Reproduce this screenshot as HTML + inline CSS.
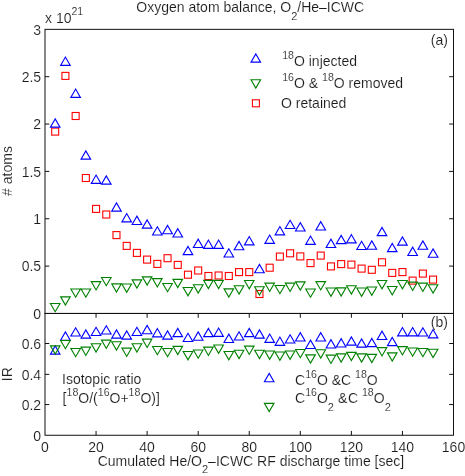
<!DOCTYPE html>
<html><head><meta charset="utf-8"><title>Oxygen atom balance</title>
<style>html,body{margin:0;padding:0;background:#fff}svg{display:block;will-change:transform}text{font-family:"Liberation Sans",sans-serif;font-size:14px;fill:#1c1c1c;stroke:#fff;stroke-width:0.12px;paint-order:fill stroke}.s{font-size:10.6px}.b{font-size:11px}</style></head><body>
<svg width="465" height="476" viewBox="0 0 465 476">
<rect width="465" height="476" fill="#fff"/>
<g stroke="#111" stroke-width="1" fill="none" shape-rendering="auto">
<rect x="45.0" y="29.35" width="408.50" height="284.10"/>
<rect x="45.0" y="313.45" width="408.50" height="121.80"/>
<path d="M45.0,266.10h4.3 M453.5,266.10h-4.3"/>
<path d="M45.0,218.75h4.3 M453.5,218.75h-4.3"/>
<path d="M45.0,171.40h4.3 M453.5,171.40h-4.3"/>
<path d="M45.0,124.05h4.3 M453.5,124.05h-4.3"/>
<path d="M45.0,76.70h4.3 M453.5,76.70h-4.3"/>
<path d="M45.0,404.55h4.3 M453.5,404.55h-4.3"/>
<path d="M45.0,374.35h4.3 M453.5,374.35h-4.3"/>
<path d="M45.0,343.50h4.3 M453.5,343.50h-4.3"/>
<path d="M96.06,313.45v4.3 M96.06,435.25v-4.3"/>
<path d="M147.12,313.45v4.3 M147.12,435.25v-4.3"/>
<path d="M198.19,313.45v4.3 M198.19,435.25v-4.3"/>
<path d="M249.25,313.45v4.3 M249.25,435.25v-4.3"/>
<path d="M300.31,313.45v4.3 M300.31,435.25v-4.3"/>
<path d="M351.38,313.45v4.3 M351.38,435.25v-4.3"/>
<path d="M402.44,313.45v4.3 M402.44,435.25v-4.3"/>
</g>
<g fill="none" stroke-width="1.1" stroke-linejoin="miter">
<rect x="51.71" y="128.10" width="7.00" height="7.00" stroke="#ff0000"/>
<rect x="61.92" y="72.40" width="7.00" height="7.00" stroke="#ff0000"/>
<rect x="72.14" y="112.50" width="7.00" height="7.00" stroke="#ff0000"/>
<rect x="82.35" y="174.50" width="7.00" height="7.00" stroke="#ff0000"/>
<rect x="92.56" y="205.40" width="7.00" height="7.00" stroke="#ff0000"/>
<rect x="102.78" y="211.00" width="7.00" height="7.00" stroke="#ff0000"/>
<rect x="112.99" y="231.60" width="7.00" height="7.00" stroke="#ff0000"/>
<rect x="123.20" y="242.40" width="7.00" height="7.00" stroke="#ff0000"/>
<rect x="133.41" y="249.40" width="7.00" height="7.00" stroke="#ff0000"/>
<rect x="143.62" y="256.10" width="7.00" height="7.00" stroke="#ff0000"/>
<rect x="153.84" y="260.40" width="7.00" height="7.00" stroke="#ff0000"/>
<rect x="164.05" y="254.70" width="7.00" height="7.00" stroke="#ff0000"/>
<rect x="174.26" y="261.40" width="7.00" height="7.00" stroke="#ff0000"/>
<rect x="184.47" y="271.20" width="7.00" height="7.00" stroke="#ff0000"/>
<rect x="194.69" y="267.00" width="7.00" height="7.00" stroke="#ff0000"/>
<rect x="204.90" y="272.50" width="7.00" height="7.00" stroke="#ff0000"/>
<rect x="215.11" y="272.00" width="7.00" height="7.00" stroke="#ff0000"/>
<rect x="225.32" y="272.50" width="7.00" height="7.00" stroke="#ff0000"/>
<rect x="235.54" y="268.60" width="7.00" height="7.00" stroke="#ff0000"/>
<rect x="245.75" y="268.60" width="7.00" height="7.00" stroke="#ff0000"/>
<rect x="255.96" y="290.50" width="7.00" height="7.00" stroke="#ff0000"/>
<rect x="266.18" y="264.20" width="7.00" height="7.00" stroke="#ff0000"/>
<rect x="276.39" y="253.10" width="7.00" height="7.00" stroke="#ff0000"/>
<rect x="286.60" y="249.80" width="7.00" height="7.00" stroke="#ff0000"/>
<rect x="296.81" y="252.90" width="7.00" height="7.00" stroke="#ff0000"/>
<rect x="307.02" y="259.60" width="7.00" height="7.00" stroke="#ff0000"/>
<rect x="317.24" y="252.10" width="7.00" height="7.00" stroke="#ff0000"/>
<rect x="327.45" y="262.90" width="7.00" height="7.00" stroke="#ff0000"/>
<rect x="337.66" y="260.60" width="7.00" height="7.00" stroke="#ff0000"/>
<rect x="347.88" y="261.10" width="7.00" height="7.00" stroke="#ff0000"/>
<rect x="358.09" y="265.10" width="7.00" height="7.00" stroke="#ff0000"/>
<rect x="368.30" y="266.30" width="7.00" height="7.00" stroke="#ff0000"/>
<rect x="378.51" y="258.80" width="7.00" height="7.00" stroke="#ff0000"/>
<rect x="388.73" y="269.40" width="7.00" height="7.00" stroke="#ff0000"/>
<rect x="398.94" y="268.60" width="7.00" height="7.00" stroke="#ff0000"/>
<rect x="409.15" y="277.10" width="7.00" height="7.00" stroke="#ff0000"/>
<rect x="419.36" y="270.10" width="7.00" height="7.00" stroke="#ff0000"/>
<rect x="429.57" y="276.10" width="7.00" height="7.00" stroke="#ff0000"/>
<polygon points="50.41,303.45 60.01,303.45 55.21,311.75" stroke="#008000"/>
<polygon points="60.62,296.85 70.22,296.85 65.42,305.15" stroke="#008000"/>
<polygon points="70.84,288.95 80.44,288.95 75.64,297.25" stroke="#008000"/>
<polygon points="81.05,288.95 90.65,288.95 85.85,297.25" stroke="#008000"/>
<polygon points="91.26,281.65 100.86,281.65 96.06,289.95" stroke="#008000"/>
<polygon points="101.48,277.45 111.08,277.45 106.28,285.75" stroke="#008000"/>
<polygon points="111.69,283.85 121.29,283.85 116.49,292.15" stroke="#008000"/>
<polygon points="121.90,284.05 131.50,284.05 126.70,292.35" stroke="#008000"/>
<polygon points="132.11,279.85 141.71,279.85 136.91,288.15" stroke="#008000"/>
<polygon points="142.32,276.85 151.93,276.85 147.12,285.15" stroke="#008000"/>
<polygon points="152.54,278.65 162.14,278.65 157.34,286.95" stroke="#008000"/>
<polygon points="162.75,283.45 172.35,283.45 167.55,291.75" stroke="#008000"/>
<polygon points="172.96,279.35 182.56,279.35 177.76,287.65" stroke="#008000"/>
<polygon points="183.17,287.55 192.78,287.55 187.97,295.85" stroke="#008000"/>
<polygon points="193.39,284.75 202.99,284.75 198.19,293.05" stroke="#008000"/>
<polygon points="203.60,280.35 213.20,280.35 208.40,288.65" stroke="#008000"/>
<polygon points="213.81,280.35 223.41,280.35 218.61,288.65" stroke="#008000"/>
<polygon points="224.02,288.85 233.62,288.85 228.82,297.15" stroke="#008000"/>
<polygon points="234.24,285.75 243.84,285.75 239.04,294.05" stroke="#008000"/>
<polygon points="244.45,280.55 254.05,280.55 249.25,288.85" stroke="#008000"/>
<polygon points="254.66,286.75 264.26,286.75 259.46,295.05" stroke="#008000"/>
<polygon points="264.88,283.15 274.48,283.15 269.68,291.45" stroke="#008000"/>
<polygon points="275.09,285.45 284.69,285.45 279.89,293.75" stroke="#008000"/>
<polygon points="285.30,283.15 294.90,283.15 290.10,291.45" stroke="#008000"/>
<polygon points="295.51,281.85 305.11,281.85 300.31,290.15" stroke="#008000"/>
<polygon points="305.72,288.95 315.32,288.95 310.52,297.25" stroke="#008000"/>
<polygon points="315.94,281.65 325.54,281.65 320.74,289.95" stroke="#008000"/>
<polygon points="326.15,288.05 335.75,288.05 330.95,296.35" stroke="#008000"/>
<polygon points="336.36,287.85 345.96,287.85 341.16,296.15" stroke="#008000"/>
<polygon points="346.57,285.75 356.18,285.75 351.38,294.05" stroke="#008000"/>
<polygon points="356.79,288.05 366.39,288.05 361.59,296.35" stroke="#008000"/>
<polygon points="367.00,287.05 376.60,287.05 371.80,295.35" stroke="#008000"/>
<polygon points="377.21,280.55 386.81,280.55 382.01,288.85" stroke="#008000"/>
<polygon points="387.43,286.55 397.03,286.55 392.23,294.85" stroke="#008000"/>
<polygon points="397.64,280.55 407.24,280.55 402.44,288.85" stroke="#008000"/>
<polygon points="407.85,282.15 417.45,282.15 412.65,290.45" stroke="#008000"/>
<polygon points="418.06,283.15 427.66,283.15 422.86,291.45" stroke="#008000"/>
<polygon points="428.27,284.75 437.88,284.75 433.07,293.05" stroke="#008000"/>
<polygon points="50.41,127.15 60.01,127.15 55.21,118.85" stroke="#0000ff"/>
<polygon points="60.62,65.35 70.22,65.35 65.42,57.05" stroke="#0000ff"/>
<polygon points="70.84,97.35 80.44,97.35 75.64,89.05" stroke="#0000ff"/>
<polygon points="81.05,159.15 90.65,159.15 85.85,150.85" stroke="#0000ff"/>
<polygon points="91.26,183.35 100.86,183.35 96.06,175.05" stroke="#0000ff"/>
<polygon points="101.48,184.15 111.08,184.15 106.28,175.85" stroke="#0000ff"/>
<polygon points="111.69,211.15 121.29,211.15 116.49,202.85" stroke="#0000ff"/>
<polygon points="121.90,221.85 131.50,221.85 126.70,213.55" stroke="#0000ff"/>
<polygon points="132.11,224.45 141.71,224.45 136.91,216.15" stroke="#0000ff"/>
<polygon points="142.32,228.15 151.93,228.15 147.12,219.85" stroke="#0000ff"/>
<polygon points="152.54,235.05 162.14,235.05 157.34,226.75" stroke="#0000ff"/>
<polygon points="162.75,233.75 172.35,233.75 167.55,225.45" stroke="#0000ff"/>
<polygon points="172.96,236.95 182.56,236.95 177.76,228.65" stroke="#0000ff"/>
<polygon points="183.17,254.65 192.78,254.65 187.97,246.35" stroke="#0000ff"/>
<polygon points="193.39,247.45 202.99,247.45 198.19,239.15" stroke="#0000ff"/>
<polygon points="203.60,248.35 213.20,248.35 208.40,240.05" stroke="#0000ff"/>
<polygon points="213.81,248.35 223.41,248.35 218.61,240.05" stroke="#0000ff"/>
<polygon points="224.02,257.05 233.62,257.05 228.82,248.75" stroke="#0000ff"/>
<polygon points="234.24,249.75 243.84,249.75 239.04,241.45" stroke="#0000ff"/>
<polygon points="244.45,244.85 254.05,244.85 249.25,236.55" stroke="#0000ff"/>
<polygon points="254.66,272.75 264.26,272.75 259.46,264.45" stroke="#0000ff"/>
<polygon points="264.88,243.35 274.48,243.35 269.68,235.05" stroke="#0000ff"/>
<polygon points="275.09,234.85 284.69,234.85 279.89,226.55" stroke="#0000ff"/>
<polygon points="285.30,228.55 294.90,228.55 290.10,220.25" stroke="#0000ff"/>
<polygon points="295.51,230.95 305.11,230.95 300.31,222.65" stroke="#0000ff"/>
<polygon points="305.72,244.35 315.32,244.35 310.52,236.05" stroke="#0000ff"/>
<polygon points="315.94,229.95 325.54,229.95 320.74,221.65" stroke="#0000ff"/>
<polygon points="326.15,247.45 335.75,247.45 330.95,239.15" stroke="#0000ff"/>
<polygon points="336.36,243.65 345.96,243.65 341.16,235.35" stroke="#0000ff"/>
<polygon points="346.57,242.85 356.18,242.85 351.38,234.55" stroke="#0000ff"/>
<polygon points="356.79,249.55 366.39,249.55 361.59,241.25" stroke="#0000ff"/>
<polygon points="367.00,249.25 376.60,249.25 371.80,240.95" stroke="#0000ff"/>
<polygon points="377.21,235.65 386.81,235.65 382.01,227.35" stroke="#0000ff"/>
<polygon points="387.43,251.65 397.03,251.65 392.23,243.35" stroke="#0000ff"/>
<polygon points="397.64,245.15 407.24,245.15 402.44,236.85" stroke="#0000ff"/>
<polygon points="407.85,255.45 417.45,255.45 412.65,247.15" stroke="#0000ff"/>
<polygon points="418.06,249.25 427.66,249.25 422.86,240.95" stroke="#0000ff"/>
<polygon points="428.27,257.25 437.88,257.25 433.07,248.95" stroke="#0000ff"/>
<polygon points="50.41,354.15 60.01,354.15 55.21,345.85" stroke="#0000ff"/>
<polygon points="60.62,340.25 70.22,340.25 65.42,331.95" stroke="#0000ff"/>
<polygon points="70.84,336.05 80.44,336.05 75.64,327.75" stroke="#0000ff"/>
<polygon points="81.05,338.15 90.65,338.15 85.85,329.85" stroke="#0000ff"/>
<polygon points="91.26,335.55 100.86,335.55 96.06,327.25" stroke="#0000ff"/>
<polygon points="101.48,334.05 111.08,334.05 106.28,325.75" stroke="#0000ff"/>
<polygon points="111.69,338.15 121.29,338.15 116.49,329.85" stroke="#0000ff"/>
<polygon points="121.90,339.15 131.50,339.15 126.70,330.85" stroke="#0000ff"/>
<polygon points="132.11,335.55 141.71,335.55 136.91,327.25" stroke="#0000ff"/>
<polygon points="142.32,333.75 151.93,333.75 147.12,325.45" stroke="#0000ff"/>
<polygon points="152.54,336.85 162.14,336.85 157.34,328.55" stroke="#0000ff"/>
<polygon points="162.75,339.15 172.35,339.15 167.55,330.85" stroke="#0000ff"/>
<polygon points="172.96,336.65 182.56,336.65 177.76,328.35" stroke="#0000ff"/>
<polygon points="183.17,341.55 192.78,341.55 187.97,333.25" stroke="#0000ff"/>
<polygon points="193.39,340.25 202.99,340.25 198.19,331.95" stroke="#0000ff"/>
<polygon points="203.60,336.65 213.20,336.65 208.40,328.35" stroke="#0000ff"/>
<polygon points="213.81,336.35 223.41,336.35 218.61,328.05" stroke="#0000ff"/>
<polygon points="224.02,342.45 233.62,342.45 228.82,334.15" stroke="#0000ff"/>
<polygon points="234.24,340.05 243.84,340.05 239.04,331.75" stroke="#0000ff"/>
<polygon points="244.45,336.65 254.05,336.65 249.25,328.35" stroke="#0000ff"/>
<polygon points="254.66,338.15 264.26,338.15 259.46,329.85" stroke="#0000ff"/>
<polygon points="264.88,342.35 274.48,342.35 269.68,334.05" stroke="#0000ff"/>
<polygon points="275.09,345.35 284.69,345.35 279.89,337.05" stroke="#0000ff"/>
<polygon points="285.30,343.05 294.90,343.05 290.10,334.75" stroke="#0000ff"/>
<polygon points="295.51,340.95 305.11,340.95 300.31,332.65" stroke="#0000ff"/>
<polygon points="305.72,348.45 315.32,348.45 310.52,340.15" stroke="#0000ff"/>
<polygon points="315.94,340.95 325.54,340.95 320.74,332.65" stroke="#0000ff"/>
<polygon points="326.15,347.95 335.75,347.95 330.95,339.65" stroke="#0000ff"/>
<polygon points="336.36,346.95 345.96,346.95 341.16,338.65" stroke="#0000ff"/>
<polygon points="346.57,345.15 356.18,345.15 351.38,336.85" stroke="#0000ff"/>
<polygon points="356.79,347.15 366.39,347.15 361.59,338.85" stroke="#0000ff"/>
<polygon points="367.00,346.65 376.60,346.65 371.80,338.35" stroke="#0000ff"/>
<polygon points="377.21,339.45 386.81,339.45 382.01,331.15" stroke="#0000ff"/>
<polygon points="387.43,345.65 397.03,345.65 392.23,337.35" stroke="#0000ff"/>
<polygon points="397.64,335.85 407.24,335.85 402.44,327.55" stroke="#0000ff"/>
<polygon points="407.85,335.85 417.45,335.85 412.65,327.55" stroke="#0000ff"/>
<polygon points="418.06,336.05 427.66,336.05 422.86,327.75" stroke="#0000ff"/>
<polygon points="428.27,337.85 437.88,337.85 433.07,329.55" stroke="#0000ff"/>
<polygon points="50.41,345.85 60.01,345.85 55.21,354.15" stroke="#008000"/>
<polygon points="60.62,340.45 70.22,340.45 65.42,348.75" stroke="#008000"/>
<polygon points="70.84,348.45 80.44,348.45 75.64,356.75" stroke="#008000"/>
<polygon points="81.05,347.15 90.65,347.15 85.85,355.45" stroke="#008000"/>
<polygon points="91.26,343.75 100.86,343.75 96.06,352.05" stroke="#008000"/>
<polygon points="101.48,340.15 111.08,340.15 106.28,348.45" stroke="#008000"/>
<polygon points="111.69,341.75 121.29,341.75 116.49,350.05" stroke="#008000"/>
<polygon points="121.90,348.15 131.50,348.15 126.70,356.45" stroke="#008000"/>
<polygon points="132.11,343.75 141.71,343.75 136.91,352.05" stroke="#008000"/>
<polygon points="142.32,339.15 151.93,339.15 147.12,347.45" stroke="#008000"/>
<polygon points="152.54,346.45 162.14,346.45 157.34,354.75" stroke="#008000"/>
<polygon points="162.75,348.45 172.35,348.45 167.55,356.75" stroke="#008000"/>
<polygon points="172.96,346.35 182.56,346.35 177.76,354.65" stroke="#008000"/>
<polygon points="183.17,351.55 192.78,351.55 187.97,359.85" stroke="#008000"/>
<polygon points="193.39,349.95 202.99,349.95 198.19,358.25" stroke="#008000"/>
<polygon points="203.60,347.15 213.20,347.15 208.40,355.45" stroke="#008000"/>
<polygon points="213.81,345.05 223.41,345.05 218.61,353.35" stroke="#008000"/>
<polygon points="224.02,351.55 233.62,351.55 228.82,359.85" stroke="#008000"/>
<polygon points="234.24,350.25 243.84,350.25 239.04,358.55" stroke="#008000"/>
<polygon points="244.45,346.15 254.05,346.15 249.25,354.45" stroke="#008000"/>
<polygon points="254.66,350.25 264.26,350.25 259.46,358.55" stroke="#008000"/>
<polygon points="264.88,351.05 274.48,351.05 269.68,359.35" stroke="#008000"/>
<polygon points="275.09,352.05 284.69,352.05 279.89,360.35" stroke="#008000"/>
<polygon points="285.30,351.05 294.90,351.05 290.10,359.35" stroke="#008000"/>
<polygon points="295.51,349.45 305.11,349.45 300.31,357.75" stroke="#008000"/>
<polygon points="305.72,354.85 315.32,354.85 310.52,363.15" stroke="#008000"/>
<polygon points="315.94,349.75 325.54,349.75 320.74,358.05" stroke="#008000"/>
<polygon points="326.15,355.15 335.75,355.15 330.95,363.45" stroke="#008000"/>
<polygon points="336.36,353.85 345.96,353.85 341.16,362.15" stroke="#008000"/>
<polygon points="346.57,352.35 356.18,352.35 351.38,360.65" stroke="#008000"/>
<polygon points="356.79,353.85 366.39,353.85 361.59,362.15" stroke="#008000"/>
<polygon points="367.00,354.35 376.60,354.35 371.80,362.65" stroke="#008000"/>
<polygon points="377.21,347.65 386.81,347.65 382.01,355.95" stroke="#008000"/>
<polygon points="387.43,352.85 397.03,352.85 392.23,361.15" stroke="#008000"/>
<polygon points="397.64,346.65 407.24,346.65 402.44,354.95" stroke="#008000"/>
<polygon points="407.85,347.95 417.45,347.95 412.65,356.25" stroke="#008000"/>
<polygon points="418.06,348.45 427.66,348.45 422.86,356.75" stroke="#008000"/>
<polygon points="428.27,349.25 437.88,349.25 433.07,357.55" stroke="#008000"/>
<polygon points="251.00,62.15 260.60,62.15 255.80,53.85" stroke="#0000ff"/>
<polygon points="251.00,79.75 260.60,79.75 255.80,88.05" stroke="#008000"/>
<rect x="252.40" y="99.80" width="7.00" height="7.00" stroke="#ff0000"/>
<polygon points="264.40,381.75 274.00,381.75 269.20,373.45" stroke="#0000ff"/>
<polygon points="264.40,403.35 274.00,403.35 269.20,411.65" stroke="#008000"/>
</g>
<g>
<text x="136.3" y="12.3">Oxygen atom balance, O<tspan class="b" dy="7.2">2</tspan><tspan dy="-7.2">/He–ICWC</tspan></text>
<text x="45.0" y="22.7">x 10<tspan class="s" dy="-7.7">21</tspan></text>
<text x="41.1" y="318.65" text-anchor="end">0</text>
<text x="41.1" y="271.30" text-anchor="end">0.5</text>
<text x="41.1" y="223.95" text-anchor="end">1</text>
<text x="41.1" y="176.60" text-anchor="end">1.5</text>
<text x="41.1" y="129.25" text-anchor="end">2</text>
<text x="41.1" y="81.90" text-anchor="end">2.5</text>
<text x="41.1" y="34.55" text-anchor="end">3</text>
<text x="41.1" y="440.75" text-anchor="end">0</text>
<text x="41.1" y="410.30" text-anchor="end">0.2</text>
<text x="41.1" y="379.85" text-anchor="end">0.4</text>
<text x="41.1" y="349.40" text-anchor="end">0.6</text>
<text x="45.00" y="452.4" text-anchor="middle">0</text>
<text x="96.06" y="452.4" text-anchor="middle">20</text>
<text x="147.12" y="452.4" text-anchor="middle">40</text>
<text x="198.19" y="452.4" text-anchor="middle">60</text>
<text x="249.25" y="452.4" text-anchor="middle">80</text>
<text x="300.31" y="452.4" text-anchor="middle">100</text>
<text x="351.38" y="452.4" text-anchor="middle">120</text>
<text x="402.44" y="452.4" text-anchor="middle">140</text>
<text x="453.50" y="452.4" text-anchor="middle">160</text>
<text x="97.7" y="466.1">Cumulated He/O<tspan class="b" dy="7.2">2</tspan><tspan dy="-7.2">–ICWC RF discharge time [sec]</tspan></text>
<text transform="translate(12.2,171) rotate(-90)" text-anchor="middle"># atoms</text>
<text transform="translate(12.3,374.2) rotate(-90)" text-anchor="middle">IR</text>
<text x="430.8" y="44.6">(a)</text>
<text x="430.8" y="327">(b)</text>
<text x="282.2" y="65.7"><tspan class="s" dy="-7">18</tspan><tspan dy="7">O injected</tspan></text>
<text x="282.2" y="88.3"><tspan class="s" dy="-7">16</tspan><tspan dy="7">O &amp; </tspan><tspan class="s" dy="-7">18</tspan><tspan dy="7">O removed</tspan></text>
<text x="281.0" y="107.6">O retained</text>
<text x="62.0" y="383.5">Isotopic ratio</text>
<text x="62.6" y="403.4">[<tspan class="s" dy="-7">18</tspan><tspan dy="7">O/(</tspan><tspan class="s" dy="-7">16</tspan><tspan dy="7">O+</tspan><tspan class="s" dy="-7">18</tspan><tspan dy="7">O)]</tspan></text>
<text x="295.0" y="384.8">C<tspan class="s" dy="-7">16</tspan><tspan dy="7">O &amp;C </tspan><tspan class="s" dy="-7">18</tspan><tspan dy="7">O</tspan></text>
<text x="295.0" y="403.3">C<tspan class="s" dy="-7">16</tspan><tspan dy="7">O</tspan><tspan class="b" dy="7.8">2</tspan><tspan dy="-7.8" dx="0.3"> &amp;</tspan><tspan dx="0.5">C </tspan><tspan class="s" dy="-7">18</tspan><tspan dy="7">O</tspan><tspan class="b" dy="7.8">2</tspan></text>
</g>
</svg></body></html>
